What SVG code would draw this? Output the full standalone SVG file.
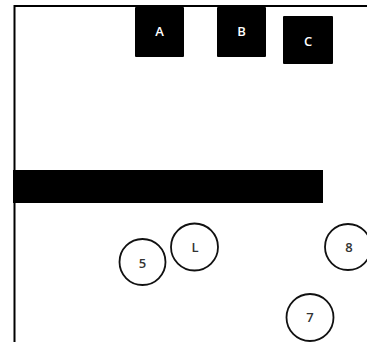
<svg xmlns="http://www.w3.org/2000/svg" width="367" height="342" viewBox="0 0 367 342">
<style>
.box{fill:#000}
.bt{fill:#fff;font-family:"Open Sans","Liberation Sans",sans-serif;font-size:13px;font-weight:600;text-anchor:middle;dominant-baseline:central}
.c{fill:#fff;stroke:#111;stroke-width:1.8}
.ct{fill:#333;font-family:"Open Sans","Liberation Sans",sans-serif;font-size:13px;font-weight:600;text-anchor:middle;dominant-baseline:central}
</style>
<rect width="367" height="342" fill="#fff"/>
<g id="frame"><path d="M14.5 342 V6 H367" fill="none" stroke="#000" stroke-width="2"/></g>
<g id="bar"><rect x="13" y="170" width="310" height="33" fill="#000"/></g>
<g id="A"><rect class="box" x="135" y="7" width="49" height="50" rx="1"/><text class="bt" x="159.5" y="31">A</text></g>
<g id="B"><rect class="box" x="217" y="7" width="49" height="50" rx="1"/><text class="bt" x="241.5" y="31">B</text></g>
<g id="C"><rect class="box" x="283" y="16" width="50" height="48" rx="1"/><text class="bt" x="308" y="41">C</text></g>
<g id="n5"><circle class="c" cx="142.5" cy="262" r="23"/><text class="ct" x="142.5" y="263">5</text></g>
<g id="nL"><circle class="c" cx="194.5" cy="247" r="23.5"/><text class="ct" x="195" y="247">L</text></g>
<g id="n8"><circle class="c" cx="348" cy="247" r="23"/><text class="ct" x="349" y="247">8</text></g>
<g id="n7"><circle class="c" cx="310" cy="317.5" r="23.5"/><text class="ct" x="310" y="317">7</text></g>
<g id="connectors"></g>
</svg>
